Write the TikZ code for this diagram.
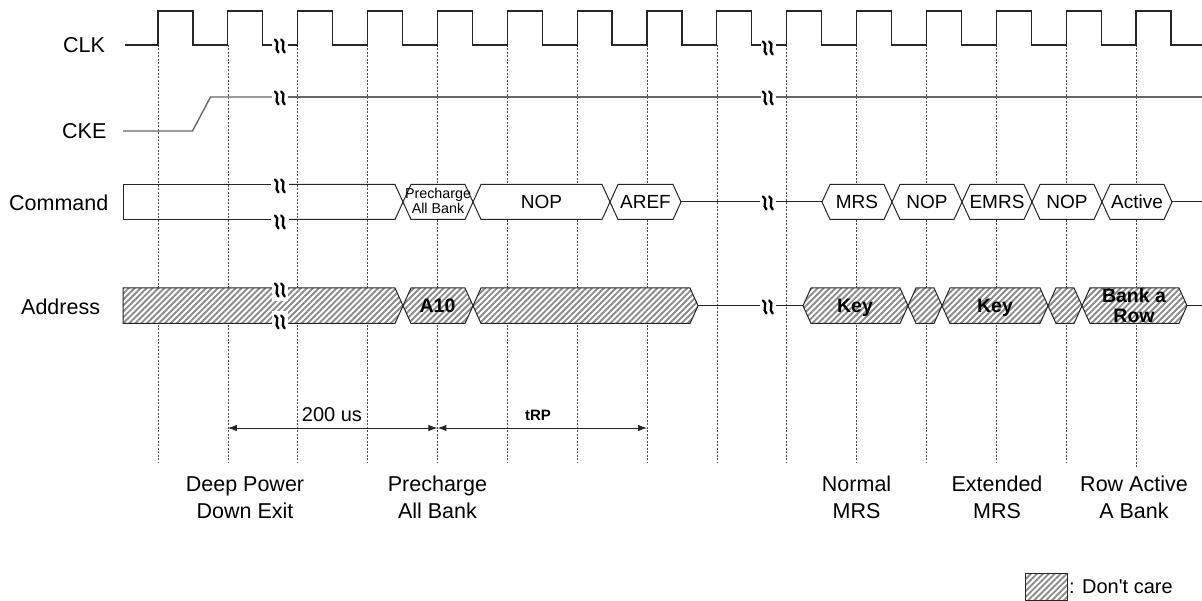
\documentclass[tikz,border=0pt]{standalone}
\usepackage{fontspec}
\setmainfont{Liberation Sans}
\usetikzlibrary{arrows.meta,patterns.meta}
\newcommand\busseg[5][]{\path[#1] (#2,{(#4+#5)/2}) -- ({#2+8},#4) -- ({#3-8},#4) -- (#3,{(#4+#5)/2}) -- ({#3-8},#5) -- ({#2+8},#5) -- cycle;}
\newcommand\brkmark[2]{%
  \draw[brk] ({#1-5},{#2-6.5}) .. controls ({#1+0.5},{#2-3.8}) and ({#1-6.5},{#2+2.8}) .. ({#1-1.5},{#2+6.5});
  \draw[brk] ({#1+1.2},{#2-6.5}) .. controls ({#1+6.7},{#2-3.8}) and ({#1-0.3},{#2+2.8}) .. ({#1+4.7},{#2+6.5});}
\tikzset{
  wave/.style={line width=1.2pt, draw=black!85},
  ckeline/.style={line width=1.4pt, draw=black!60},
  busline/.style={line width=1pt, draw=black!85},
  gridline/.style={line width=0.7pt, draw=black!70, dash pattern=on 2pt off 1.5pt},
  hatch/.style={preaction={fill=white}, pattern={Lines[angle=45,distance=4.2pt,line width=1.9pt]}, pattern color=black!45},
  brk/.style={line width=2.3pt, draw=black, line cap=round},
  sig/.style={font=\fontsize{21.5}{25}\selectfont, inner sep=0pt, text height=15.4pt, text depth=0pt, anchor=west},
  cmd/.style={font=\fontsize{19}{22}\selectfont, inner sep=0pt, text height=13.6pt, text depth=0pt},
  small/.style={font=\fontsize{14.3}{16}\selectfont, inner sep=0pt, text height=10.2pt, text depth=0pt},
  addr/.style={font=\bfseries\fontsize{19.5}{22}\selectfont, inner sep=0pt, text height=14pt, text depth=0pt},
  bot/.style={font=\fontsize{21.5}{25}\selectfont, inner sep=0pt, text height=15.4pt, text depth=0pt},
  dim/.style={line width=1pt, draw=black!85, >={Latex[length=9pt,width=6.5pt]}, <->},
}
\begin{document}
\begin{tikzpicture}[x=1pt,y=-1pt]
\useasboundingbox (0,0) rectangle (1202,601);
% grid
\foreach \k in {0,...,13} \draw[gridline] ({158+69.86*\k},45) -- ({158+69.86*\k},463);
\draw[gridline] (1136.04,45) -- (1136.04,468);
% CLK
\draw[wave] (125,45) foreach \k in {0,1} { -- ({158+69.86*\k},45) -- ({158+69.86*\k},11) -- ({192.93+69.86*\k},11) -- ({192.93+69.86*\k},45) } -- (272,45);
\draw[wave] (288,45) foreach \k in {2,...,8} { -- ({158+69.86*\k},45) -- ({158+69.86*\k},11) -- ({192.93+69.86*\k},11) -- ({192.93+69.86*\k},45) } -- (761,45);
\draw[wave] (776,45) foreach \k in {9,...,14} { -- ({158+69.86*\k},45) -- ({158+69.86*\k},11) -- ({192.93+69.86*\k},11) -- ({192.93+69.86*\k},45) } -- (1202,45);
% CKE
\draw[ckeline] (123,131) -- (192.5,131) -- (210.5,97) -- (272,97);
\draw[ckeline] (288,97) -- (761,97);
\draw[ckeline] (776,97) -- (1202,97);
% Command
\draw[busline] (271,184.5) -- (123,184.5) -- (123,219.5) -- (271,219.5);
\draw[busline] (289,184.5) -- (395,184.5) -- (403,202) -- (395,219.5) -- (289,219.5);
\busseg[busline,draw,fill=white]{403}{473}{184.5}{219.5}
\busseg[busline,draw,fill=white]{473}{610}{184.5}{219.5}
\busseg[busline,draw,fill=white]{610}{681}{184.5}{219.5}
\draw[busline] (681,202) -- (760,202);
\draw[busline] (776,202) -- (822,202);
\busseg[busline,draw,fill=white]{822}{892}{184.5}{219.5}
\busseg[busline,draw,fill=white]{892}{962}{184.5}{219.5}
\busseg[busline,draw,fill=white]{962}{1032}{184.5}{219.5}
\busseg[busline,draw,fill=white]{1032}{1102}{184.5}{219.5}
\busseg[busline,draw,fill=white]{1102}{1172}{184.5}{219.5}
\draw[busline] (1172,202) -- (1202,202);
% Address
\path[busline,draw,hatch] (123,288) -- (395,288) -- (403,305.75) -- (395,323.5) -- (123,323.5) -- cycle;
\fill[white] (272,283) rectangle (288,301);
\fill[white] (272,311) rectangle (288,331);
\busseg[busline,draw,hatch]{403}{473}{288}{323.5}
\busseg[busline,draw,hatch]{473}{698}{288}{323.5}
\draw[busline] (698,305.75) -- (760,305.75);
\draw[busline] (776,305.75) -- (803,305.75);
\busseg[busline,draw,hatch]{803}{908}{288}{323.5}
\busseg[busline,draw,hatch]{908}{942}{288}{323.5}
\busseg[busline,draw,hatch]{942}{1048}{288}{323.5}
\busseg[busline,draw,hatch]{1048}{1082}{288}{323.5}
\busseg[busline,draw,hatch]{1082}{1187}{288}{323.5}
\draw[busline] (1187,305.75) -- (1202,305.75);
% breaks
\brkmark{280}{46}
\brkmark{280}{98}
\brkmark{280}{186}
\brkmark{280}{222}
\brkmark{280}{290}
\brkmark{280}{322}
\brkmark{768}{48}
\brkmark{768}{98}
\brkmark{768}{203}
\brkmark{768}{307}
% signal labels
\node[sig] (lclk) at (63,45) {CLK};
\node[sig] (lcke) at (62,131) {CKE};
\node[sig] (lcmd) at (9,203) {Command};
\node[sig] (ladr) at (21,307) {Address};
% command labels
\node[small] (pc1) at (438,193) {Precharge};
\node[small] (pc2) at (438,208.5) {All Bank};
\node[cmd] (c1) at (541.5,202) {NOP};
\node[cmd] (c2) at (645.5,202) {AREF};
\node[cmd] (c3) at (857,202) {MRS};
\node[cmd] (c4) at (927,202) {NOP};
\node[cmd] (c5) at (997,202) {EMRS};
\node[cmd] (c6) at (1067,202) {NOP};
\node[cmd] (c7) at (1137,202) {Active};
% address labels
\node[addr] (a1) at (437.5,306) {A10};
\node[addr] (a2) at (855,306) {Key};
\node[addr] (a3) at (995,306) {Key};
\node[addr] (a4) at (1134,296) {Bank a};
\node[addr] (a5) at (1134,315.5) {Row};
% dimensions
\coordinate (d1) at (227.86,428);
\coordinate (d2) at (437.44,428);
\coordinate (d3) at (647.02,428);
\draw[dim] (d1) -- (d2);
\draw[dim] (d2) -- (d3);
\node[font=\fontsize{20}{22}\selectfont, inner sep=0pt, text height=14.3pt, text depth=0pt] (t200) at (332,414.5) {200 us};
\node[font=\bfseries\fontsize{15}{17}\selectfont, inner sep=0pt, text height=10.7pt, text depth=0pt] (trp) at (538,415) {tRP};
% bottom labels
\node[bot] (b1a) at (245,484) {Deep Power};
\node[bot] (b1b) at (245,511) {Down Exit};
\node[bot] (b2a) at (437.44,484) {Precharge};
\node[bot] (b2b) at (437.44,511) {All Bank};
\node[bot] (b3a) at (856.6,484) {Normal};
\node[bot] (b3b) at (856.6,511) {MRS};
\node[bot] (b4a) at (997,484) {Extended};
\node[bot] (b4b) at (997,511) {MRS};
\node[bot] (b5a) at (1134,484) {Row Active};
\node[bot] (b5b) at (1134,511) {A Bank};
% legend
\path[busline,draw,hatch] (1025,573) rectangle (1067,600);
\node[font=\fontsize{20}{22}\selectfont, inner sep=0pt, text height=14.3pt, text depth=0pt, anchor=west] (leg) at (1069,586) {: Don\textquotesingle t care};
\end{tikzpicture}
\end{document}
